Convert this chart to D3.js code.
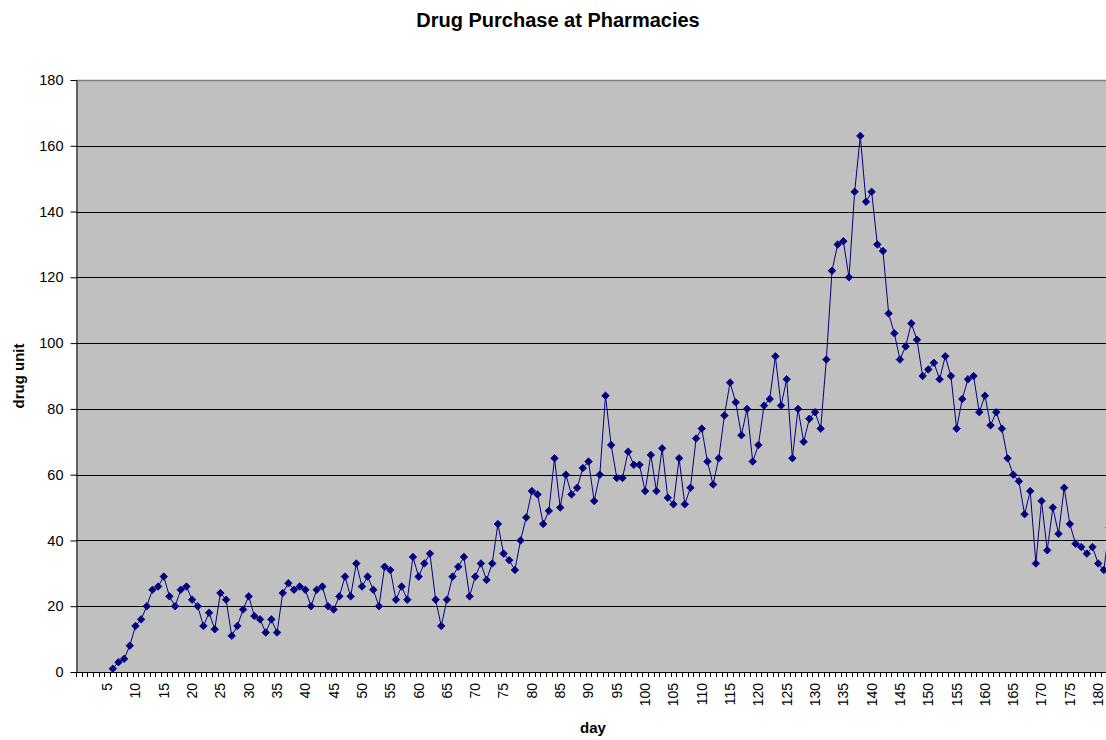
<!DOCTYPE html>
<html>
<head>
<meta charset="utf-8">
<script src="https://cdn.jsdelivr.net/npm/d3@7/dist/d3.min.js"></script>
<style>
  html, body { margin: 0; padding: 0; background: #ffffff; }
  svg { display: block; font-family: "Liberation Sans", Arial, sans-serif; }
</style>
</head>
<body>
<svg id="chart" width="1106" height="740"></svg>
<script>
// Daily drug units purchased, starting at day 6
const firstDay = 6;
const units = [
  1, 3, 4, 8, 14, 16, 20, 25, 26, 29,
  23, 20, 25, 26, 22, 20, 14, 18, 13, 24,
  22, 11, 14, 19, 23, 17, 16, 12, 16, 12,
  24, 27, 25, 26, 25, 20, 25, 26, 20, 19,
  23, 29, 23, 33, 26, 29, 25, 20, 32, 31,
  22, 26, 22, 35, 29, 33, 36, 22, 14, 22,
  29, 32, 35, 23, 29, 33, 28, 33, 45, 36,
  34, 31, 40, 47, 55, 54, 45, 49, 65, 50,
  60, 54, 56, 62, 64, 52, 60, 84, 69, 59,
  59, 67, 63, 63, 55, 66, 55, 68, 53, 51,
  65, 51, 56, 71, 74, 64, 57, 65, 78, 88,
  82, 72, 80, 64, 69, 81, 83, 96, 81, 89,
  65, 80, 70, 77, 79, 74, 95, 122, 130, 131,
  120, 146, 163, 143, 146, 130, 128, 109, 103, 95,
  99, 106, 101, 90, 92, 94, 89, 96, 90, 74,
  83, 89, 90, 79, 84, 75, 79, 74, 65, 60,
  58, 48, 55, 33, 52, 37, 50, 42, 56, 45,
  39, 38, 36, 38, 33, 31, 44
];
const days = units.map((_, i) => firstDay + i);

// Category axis runs from day 0; labels every 5 days
const categories = d3.range(0, 186);
const dayTicks = d3.range(5, 185, 5);
const unitTicks = d3.range(0, 181, 20);

const svg = d3.select("#chart");
const plotLeft = 76, plotTop = 80, plotBottom = 672;
const bandW = 5.663;

const x = d3.scaleBand()
  .domain(categories)
  .range([plotLeft, plotLeft + categories.length * bandW])
  .padding(0);
const y = d3.scaleLinear().domain([0, 180]).range([plotBottom, plotTop]);
const cx = d => x(d) + x.bandwidth() / 2;
const plotRight = x.range()[1];

// Plot area background
svg.append("rect")
  .attr("x", plotLeft).attr("y", y(180))
  .attr("width", plotRight - plotLeft).attr("height", plotBottom - y(180))
  .attr("fill", "#c0c0c0");

// Horizontal gridlines
svg.append("g")
  .selectAll("line")
  .data(unitTicks.filter(v => v > 0 && v < 180))
  .join("line")
  .attr("x1", plotLeft).attr("x2", plotRight)
  .attr("y1", d => Math.round(y(d)) + 0.5).attr("y2", d => Math.round(y(d)) + 0.5)
  .attr("stroke", "#000000").attr("stroke-width", 1);

// Top border of plot area
svg.append("line")
  .attr("x1", plotLeft).attr("x2", plotRight)
  .attr("y1", Math.round(y(180)) + 0.5).attr("y2", Math.round(y(180)) + 0.5)
  .attr("stroke", "#808080").attr("stroke-width", 1.5);

// Y axis
const yAxis = d3.axisLeft(y)
  .tickValues(unitTicks)
  .tickSize(6)
  .tickSizeOuter(0)
  .tickPadding(7)
  .tickFormat(d3.format("d"));
const gy = svg.append("g")
  .attr("transform", `translate(${plotLeft + 0.5},0)`)
  .call(yAxis);
gy.select(".domain").attr("stroke", "#000");
gy.selectAll(".tick line").attr("stroke", "#000");
gy.selectAll(".tick text")
  .attr("font-size", 14.5)
  .attr("font-family", "Liberation Sans, Arial, sans-serif")
  .attr("fill", "#000");

// X axis baseline
svg.append("line")
  .attr("x1", plotLeft).attr("x2", plotRight)
  .attr("y1", plotBottom + 0.5).attr("y2", plotBottom + 0.5)
  .attr("stroke", "#000");

// Category boundary ticks
svg.append("g")
  .selectAll("line")
  .data(categories)
  .join("line")
  .attr("x1", d => Math.round(x(d)) + 0.5).attr("x2", d => Math.round(x(d)) + 0.5)
  .attr("y1", plotBottom).attr("y2", plotBottom + 5)
  .attr("stroke", "#000");

// Day labels, rotated
svg.append("g")
  .selectAll("text")
  .data(dayTicks)
  .join("text")
  .attr("transform", d => `translate(${cx(d)},${plotBottom + 11}) rotate(-90)`)
  .attr("text-anchor", "end")
  .attr("dy", "0.35em")
  .attr("font-size", 14)
  .attr("fill", "#000")
  .text(d => d);

// Series line
const line = d3.line()
  .x((d, i) => cx(days[i]))
  .y(d => y(d));
svg.append("path")
  .datum(units)
  .attr("d", line)
  .attr("fill", "none")
  .attr("stroke", "#000080")
  .attr("stroke-width", 1);

// Diamond markers
const diamond = d3.symbol().type(d3.symbolDiamond2).size(36);
svg.append("g")
  .selectAll("path")
  .data(units)
  .join("path")
  .attr("transform", (d, i) => `translate(${cx(days[i])},${y(d)})`)
  .attr("d", diamond)
  .attr("fill", "#000080")
  .attr("stroke", "#000080")
  .attr("stroke-width", 0.8);

// Titles
svg.append("text")
  .attr("x", 558).attr("y", 27)
  .attr("text-anchor", "middle")
  .attr("font-size", 20).attr("font-weight", "bold")
  .text("Drug Purchase at Pharmacies");

svg.append("text")
  .attr("transform", `translate(24,376) rotate(-90)`)
  .attr("text-anchor", "middle")
  .attr("font-size", 15).attr("font-weight", "bold")
  .text("drug unit");

svg.append("text")
  .attr("x", 593).attr("y", 733)
  .attr("text-anchor", "middle")
  .attr("font-size", 15).attr("font-weight", "bold")
  .text("day");
</script>
</body>
</html>
